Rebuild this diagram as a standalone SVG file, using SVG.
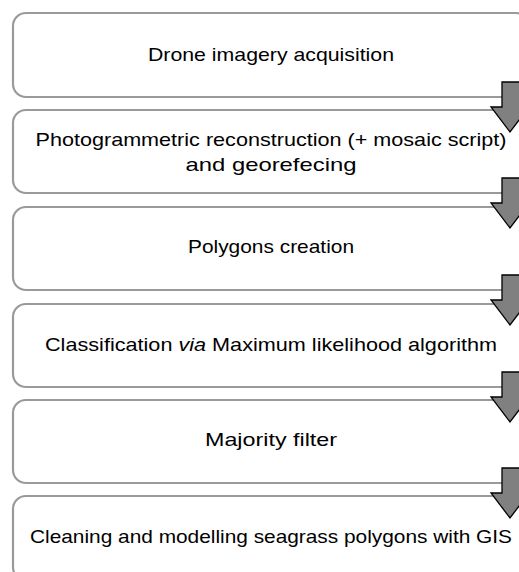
<svg xmlns="http://www.w3.org/2000/svg" width="519" height="572" viewBox="0 0 519 572">
<style>
.box{fill:#fff;stroke:#9a9a9a;stroke-width:2.2}
.arr{fill:#808080;stroke:#000;stroke-width:1.3;stroke-linejoin:miter}
text{font-family:"Liberation Sans","Open Sans",Arial,sans-serif;font-size:18.5px;fill:#000;text-anchor:middle}
</style>
<rect width="519" height="572" fill="#fff"/>
<g id="n1"><rect class="box" x="13" y="13" width="516" height="84" rx="13"/><text x="271" y="61" textLength="246" lengthAdjust="spacingAndGlyphs">Drone imagery acquisition</text></g>
<g id="n2"><rect class="box" x="13" y="110" width="516" height="83" rx="13"/><text x="271" y="146" textLength="471" lengthAdjust="spacingAndGlyphs">Photogrammetric reconstruction (+ mosaic script)</text><text x="271" y="171" textLength="171" lengthAdjust="spacingAndGlyphs">and georefecing</text></g>
<g id="n3"><rect class="box" x="13" y="207" width="516" height="83" rx="13"/><text x="271" y="253" textLength="166" lengthAdjust="spacingAndGlyphs">Polygons creation</text></g>
<g id="n4"><rect class="box" x="13" y="304" width="516" height="83" rx="13"/><text x="271" y="351" textLength="452" lengthAdjust="spacingAndGlyphs">Classification <tspan font-style="italic">via</tspan> Maximum likelihood algorithm</text></g>
<g id="n5"><rect class="box" x="13" y="400" width="516" height="83" rx="13"/><text x="271" y="446" textLength="132" lengthAdjust="spacingAndGlyphs">Majority filter</text></g>
<g id="n6"><rect class="box" x="13" y="496" width="516" height="84" rx="13"/><text x="271" y="543" textLength="482" lengthAdjust="spacingAndGlyphs">Cleaning and modelling seagrass polygons with GIS</text></g>
<g id="connectors">
<polygon class="arr" points="502,82 520,82 520,107 529,107 510,132 491,107 502,107"/>
<polygon class="arr" points="502,178 520,178 520,203 529,203 510,228 491,203 502,203"/>
<polygon class="arr" points="502,275 520,275 520,300 529,300 510,325 491,300 502,300"/>
<polygon class="arr" points="502,372 520,372 520,397 529,397 510,422 491,397 502,397"/>
<polygon class="arr" points="502,468 520,468 520,493 529,493 510,518 491,493 502,493"/>
</g>
</svg>
